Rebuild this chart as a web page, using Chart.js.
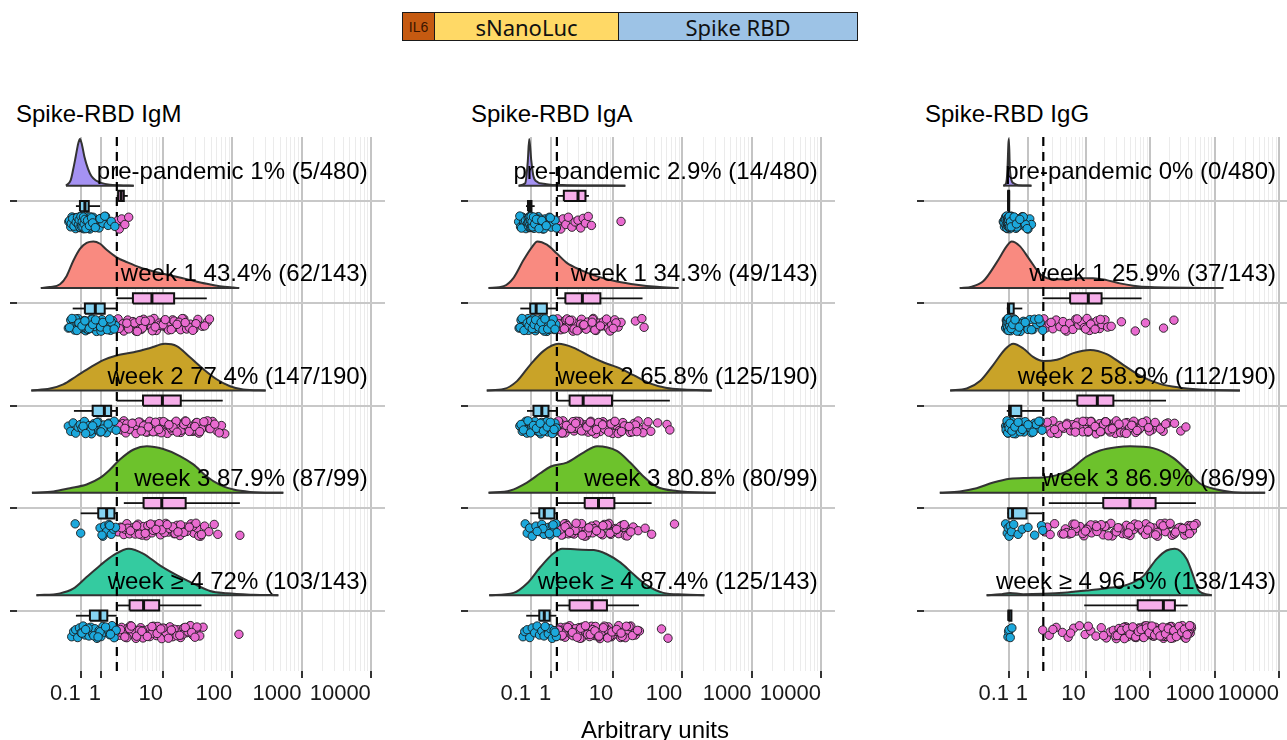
<!DOCTYPE html>
<html><head><meta charset="utf-8">
<script src="https://cdn.jsdelivr.net/npm/chart.js@4.4.1/dist/chart.umd.min.js"></script>
<style>
html,body{margin:0;padding:0;background:#fff;}
body{width:1287px;height:740px;overflow:hidden;position:relative;font-family:"Liberation Sans",Arial,sans-serif;}
#hdr{position:absolute;left:402px;top:12px;width:456px;height:29px;box-sizing:border-box;border:1.5px solid #1a1a1a;display:flex;color:#111;}
#hdr div{height:100%;display:flex;align-items:center;justify-content:center;box-sizing:border-box;font-family:"Noto Sans",sans-serif;}
#hdr div.il6{font-family:"Liberation Sans",Arial,sans-serif;font-size:14px;color:#3a1500;}
.ttl{position:absolute;top:102px;font-size:24px;line-height:24px;color:#000;white-space:nowrap;}
canvas{position:absolute;top:120px;}
#xlab{position:absolute;top:718px;left:455px;width:400px;text-align:center;font-size:24px;line-height:24px;color:#000;}
</style></head>
<body>
<div id="hdr">
  <div class="il6" style="width:31px;background:#c55a11;">IL6</div>
  <div style="width:184px;background:#ffd966;border-left:1.5px solid #1a1a1a;font-size:22px;">sNanoLuc</div>
  <div style="flex:1;background:#9dc3e6;border-left:1.5px solid #1a1a1a;font-size:22px;">Spike RBD</div>
</div>
<div class="ttl" style="left:16px">Spike-RBD IgM</div>
<div class="ttl" style="left:471px">Spike-RBD IgA</div>
<div class="ttl" style="left:925px">Spike-RBD IgG</div>
<canvas id="c1" width="395" height="620" style="left:0px"></canvas>
<canvas id="c2" width="395" height="620" style="left:450px"></canvas>
<canvas id="c3" width="403" height="620" style="left:900px"></canvas>
<div id="xlab">Arbitrary units</div>
<script>
// ---------------- data ----------------
const CATEGORIES = ['pre-pandemic', 'week 1', 'week 2', 'week 3', 'week \u2265 4'];
const POS = [5, 4, 3, 2, 1];
const TICK_MAJOR = [0.1, 1, 10, 100, 1000, 10000];
const TICK_MINOR = [2,3,4,5,6,7,8,9,20,30,40,50,60,70,80,90,200,300,400,500,600,700,800,900,2000,3000,4000,5000,6000,7000,8000,9000];
const CUTOFF = [2.0, 1.31, 2.05];
const XLIM_IGM = [-4.5, 16000];
const XLIM_IGA = [-4.4, 16000];
const XLIM_IGG = [-11.5, 16500];
const LABEL_X = 9000;

const IGM_LABELS = ['pre-pandemic 1% (5/480)', 'week 1 43.4% (62/143)', 'week 2 77.4% (147/190)', 'week 3 87.9% (87/99)', 'week \u2265 4 72% (103/143)'];
const IGA_LABELS = ['pre-pandemic 2.9% (14/480)', 'week 1 34.3% (49/143)', 'week 2 65.8% (125/190)', 'week 3 80.8% (80/99)', 'week \u2265 4 87.4% (125/143)'];
const IGG_LABELS = ['pre-pandemic 0% (0/480)', 'week 1 25.9% (37/143)', 'week 2 58.9% (112/190)', 'week 3 86.9% (86/99)', 'week \u2265 4 96.5% (138/143)'];

// density curves (x in arbitrary units, y relative density)
const IGM_DENS_X = [
 [-0.5,-0.3,-0.2,-0.1,0,0.07,0.15,0.25,0.4,0.55,0.75,1.0,1.5,2.2,3.7],
 [-1.9,-1.3,-0.77,-0.47,-0.2,0.07,0.34,0.63,0.95,1.31,1.98,2.97,4.6,8.1,14,25,43,66,104,126],
 [-2.72,-1.29,-0.62,-0.06,0.48,1.12,1.98,3.69,6.5,10.7,15.8,24.6,38.2,59.6,93,144,304],
 [-2.66,-1.1,-0.33,0.34,0.95,1.52,2.27,3.69,5.8,10.1,17.6,27.5,42.8,66.6,104,181,546],
 [-2.25,-0.77,-0.2,0.34,0.95,1.76,3.1,5.2,9.0,15.8,27.5,47.9,83.5,201,463]];
const IGM_DENS_Y = [
 [0,0.12,0.35,0.62,0.9,1.0,0.88,0.62,0.36,0.2,0.11,0.06,0.02,0.008,0],
 [0,0.02,0.08,0.26,0.58,0.84,0.97,1.0,0.95,0.82,0.66,0.55,0.44,0.34,0.26,0.17,0.09,0.04,0.01,0],
 [0,0.04,0.13,0.31,0.49,0.65,0.75,0.82,0.91,1.0,0.95,0.71,0.46,0.24,0.09,0.02,0],
 [0,0.03,0.1,0.18,0.32,0.5,0.72,0.93,1.0,0.94,0.79,0.61,0.35,0.17,0.07,0.02,0],
 [0,0.04,0.14,0.39,0.64,0.86,1.0,0.89,0.64,0.43,0.25,0.09,0.04,0.01,0]];
const IGA_DENS_X = [
 [-0.4,-0.13,-0.03,0.03,0.11,0.2,0.36,0.63,0.95,1.98,15],
 [-2.1,-1.1,-0.62,-0.2,0.14,0.36,0.78,1.31,1.98,3.4,5.8,11.3,22,42.8,88],
 [-2.25,-1.1,-0.47,0.07,0.63,1.41,2.53,4.6,7.3,11.3,19.7,34,59.6,104,266],
 [-2.1,-0.77,-0.06,0.48,0.95,1.98,3.69,5.8,11.3,17.6,27.5,42.8,83.5,304],
 [-2.05,-0.62,-0.06,0.48,1.12,1.64,2.97,5.2,8.1,12.8,19.7,31.7,53,104,208]];
const IGA_DENS_Y = [
 [0,0.05,0.5,1.0,0.55,0.2,0.08,0.04,0.02,0.01,0],
 [0,0.04,0.22,0.6,0.88,1.0,0.93,0.74,0.54,0.38,0.25,0.14,0.07,0.025,0],
 [0,0.03,0.2,0.55,0.85,1.0,0.92,0.73,0.6,0.5,0.33,0.15,0.05,0.02,0],
 [0,0.05,0.22,0.42,0.56,0.65,0.87,1.0,0.9,0.65,0.35,0.13,0.04,0],
 [0,0.05,0.25,0.6,0.9,1.0,0.98,0.97,0.88,0.7,0.45,0.2,0.05,0.015,0]];
const IGG_DENS_X = [
 [-0.15,-0.03,0.03,0.07,0.09,0.13,0.2,0.3,0.5,1.2],
 [-3.1,-1.92,-1.12,-0.44,0,0.21,0.58,1.11,1.79,2.67,4.4,8.1,13.1,21.3,34,55,100,1370],
 [-4.45,-2.36,-1.33,-0.6,-0.08,0.28,0.75,1.3,2.05,3.5,6.4,11.7,21.3,38.4,69.8,143,291,595,2480],
 [-6.5,-3.1,-1.56,-0.6,0.14,0.93,2.05,3.5,5.7,10.4,16.8,30.3,48.9,112,229,370,595,1082,1951,6100],
 [-0.94,-0.29,0.14,0.75,2.05,5.1,10.4,21.3,43.4,78.6,127,181,243,370,469,561,671,905]];
const IGG_DENS_Y = [
 [0,0.05,0.35,0.9,1.0,0.4,0.12,0.05,0.01,0],
 [0,0.03,0.15,0.55,0.9,1.0,0.9,0.6,0.3,0.2,0.19,0.21,0.21,0.17,0.1,0.05,0.02,0],
 [0,0.04,0.2,0.55,0.88,1.0,0.9,0.72,0.63,0.66,0.8,0.87,0.78,0.55,0.32,0.14,0.06,0.02,0],
 [0,0.03,0.1,0.22,0.3,0.32,0.33,0.38,0.5,0.78,0.91,0.98,1.0,0.96,0.75,0.49,0.2,0.07,0.015,0],
 [0,0.02,0.05,0.02,0.03,0.06,0.1,0.15,0.22,0.41,0.78,0.96,1.0,0.78,0.41,0.11,0.04,0]];

// boxplots [lower whisker, q1, median, q3, upper whisker]
const IGM_POS_BOX = [[2.0,2.1,2.35,2.6,3.0],[2.0,3.6,6.9,14.5,43],[2.0,5.1,9.8,18.1,73],[2.6,5.2,9.6,21.3,129],[2.0,3.2,5.2,8.8,36]];
const IGM_NEG_BOX = [[-0.09,0.07,0.27,0.43,0.95],[-0.22,0.27,0.72,1.2,1.98],[-0.17,0.6,1.18,1.59,1.98],[0.1,0.86,1.31,1.82,1.95],[-0.09,0.48,0.95,1.35,1.98]];
const IGA_POS_BOX = [[1.31,1.76,3.0,3.9,4.4],[1.31,1.87,3.5,6.5,26.6],[1.31,2.2,3.6,9.6,66],[1.37,3.8,6.1,10.4,36],[1.37,2.2,4.9,8.1,23.6]];
const IGA_NEG_BOX = [[-0.1,-0.02,0.05,0.12,0.25],[-0.33,0.07,0.31,0.78,1.28],[-0.06,0.2,0.55,0.86,1.28],[0.07,0.44,0.66,1.17,1.25],[-0.09,0.44,0.66,0.92,1.28]];
const IGG_POS_BOX = [null,[2.0,5.7,11,17.7,74],[2.0,7.4,15.2,27,177],[2.56,18.8,48.9,122,516],[9.5,64.3,161,243,384]];
const IGG_NEG_BOX = [[0.02,0.06,0.08,0.1,0.14],[0.0,0.05,0.08,0.3,0.7],[0.0,0.1,0.15,0.65,1.95],[0.03,0.06,0.25,0.92,1.95],[0.05,0.07,0.1,0.2,0.22]];

// individual samples (seropositive = pink, seronegative = blue)
const IGM_POS_PTS = [
 [2.05,2.2,2.4,2.7,3.1],
 [2.1,2.3,2.5,2.8,3.0,3.3,3.6,4.0,4.4,4.8,5.2,5.7,6.2,6.8,7.4,8.0,8.8,9.6,10.5,11.5,12.5,13.8,15,16.5,18,20,22,25,28,32,37,44,2.6,3.8,5.0,6.5,9,12,14.5,19,24,30,3.1,4.6,7.0,10,17,40,47,2.2,2.9,4.2,5.5,7.7,10.8,13.2,16,21,27],
 [2.05,2.2,2.4,2.6,2.8,3.0,3.3,3.6,3.9,4.2,4.6,5.0,5.4,5.9,6.4,7.0,7.6,8.3,9.0,9.8,10.7,11.6,12.6,13.7,15,16.5,18,19.5,21,23,25,27.5,30,33,37,41,46,52,60,70,78,2.5,3.2,4.4,5.6,6.8,8.0,9.4,11,13,15.5,18.5,22,26,31,36,2.9,4.0,5.2,7.2,10.2,14,20,28,44,65,2.15,2.7,3.5,4.8,6.1,7.8,8.7,12.2,16,21.5,24,29,34,39,48,56],
 [2.1,2.3,2.6,2.9,3.2,3.5,3.9,4.3,4.7,5.2,5.7,6.3,6.9,7.6,8.4,9.2,10,11,12,13.2,14.5,16,17.5,19,21,23,25.5,28,31,35,40,46,55,62,2.7,3.7,4.9,6.0,7.2,8.8,10.5,12.5,15,18,22,27,33,3.0,4.5,6.6,9.6,13.8,20,30,129,2.4,3.3,4.1,5.5,7.9,11.5,16.5,24,36],
 [2.05,2.2,2.4,2.6,2.8,3.0,3.3,3.6,3.9,4.3,4.7,5.1,5.6,6.1,6.7,7.3,8,8.8,9.6,10.5,11.5,12.6,13.8,15,16.5,18,20,22,24.5,27,30,34,38,2.5,3.2,4.0,5.0,6.4,8.4,11,14.5,19,25,2.9,4.5,7,10,16,23,31,125,2.3,2.7,3.4,4.1,4.9,5.9,6.9,8.2,9.3,12,13.2,17.5,21,26,29]];
const IGM_NEG_PTS = [
 [-0.38,-0.3,-0.25,-0.2,-0.15,-0.1,-0.06,-0.02,0.0,0.03,0.06,0.08,0.1,0.12,0.15,0.18,0.2,0.23,0.26,0.3,0.33,0.36,0.4,0.44,0.48,0.52,0.57,0.62,0.68,0.75,0.82,0.9,1.0,1.1,1.25,1.4,1.6,1.85,-0.12,0.05,0.14,0.22,0.28,0.35,0.5,0.65,-0.05,0.09,0.17,0.42,-0.35,-0.28,-0.22,-0.17,-0.08,-0.03,0.01,0.04,0.07,0.11,0.13,0.16,0.19,0.21,0.24,0.27,0.31,0.38,0.46,0.55,0.6,0.72,0.95,1.2],
 [-0.4,-0.3,-0.22,-0.15,-0.08,0,0.06,0.12,0.18,0.25,0.3,0.36,0.42,0.48,0.55,0.62,0.7,0.78,0.86,0.95,1.05,1.15,1.27,1.4,1.55,1.7,1.9,-0.1,0.1,0.2,0.33,0.5,0.66,0.8,1.0,1.2,0.4,0.58,0.9,1.6,-0.35,-0.25,-0.05,0.03,0.15,0.27,0.45,0.6,0.73,0.98,1.1,1.35,1.5,1.8],
 [-0.4,-0.3,-0.2,-0.1,0,0.08,0.15,0.25,0.35,0.45,0.55,0.65,0.75,0.85,0.95,1.05,1.15,1.3,1.45,1.6,1.8,1.95,0.2,0.5,0.8,1.1,1.4,0.3,0.6,1.0],
 [-0.12,0.1,0.95,1.1,1.2,1.3,1.45,1.6,1.75,1.9,1.05,1.5],
 [-0.26,-0.18,-0.1,-0.02,0.05,0.12,0.2,0.28,0.36,0.44,0.52,0.6,0.7,0.8,0.9,1.0,1.1,1.2,1.35,1.5,1.65,1.8,1.95,0.15,0.4,0.65,0.95,1.25,1.55,0.3,0.85]];
const IGA_POS_PTS = [
 [1.4,1.55,1.7,1.9,2.1,2.4,2.7,3.0,3.3,3.6,3.9,4.3,4.8,13],
 [1.35,1.45,1.6,1.75,1.9,2.1,2.3,2.5,2.8,3.1,3.4,3.8,4.2,4.6,5.1,5.6,6.2,6.9,7.7,8.5,9.5,10.5,11.8,13,1.55,2.0,2.6,3.3,4.0,5.0,6.0,7.2,9.0,11,1.7,2.4,3.6,5.4,21,26,28,1.4,1.8,2.2,2.9,3.7,4.9,6.5,8.0,10],
 [1.35,1.45,1.55,1.7,1.85,2.0,2.2,2.4,2.6,2.9,3.2,3.5,3.9,4.3,4.7,5.2,5.8,6.4,7.1,7.9,8.8,9.8,11,12.3,13.8,15.5,17.5,20,23,26,30,35,44,1.6,1.9,2.3,2.7,3.1,3.7,4.4,5.5,6.8,8.3,10.3,12.8,16.5,21,27,1.5,2.1,2.8,3.3,4.0,4.9,6.1,7.5,9.3,11.8,14.5,19,2.5,3.0,60,66,1.4,1.65,1.95,2.35,2.75,3.4,4.1,4.6,5.7,7.0,8.6,10.6,13.2,17,22,32],
 [1.4,1.55,1.7,1.9,2.1,2.3,2.6,2.9,3.2,3.6,4.0,4.5,5.0,5.6,6.3,7.0,7.8,8.7,9.7,10.8,12,13.5,15,17,19.5,23,1.8,2.4,3.0,3.8,4.8,6.0,7.4,9.2,11.5,14,1.6,2.0,2.7,3.4,4.2,5.3,6.6,8.2,10.2,12.7,16,29,36,77,1.5,1.85,2.2,2.8,3.5,4.4,5.7,7.1,9.0,11.2,14.5,18],
 [1.35,1.45,1.55,1.7,1.85,2.0,2.2,2.4,2.6,2.85,3.1,3.4,3.7,4.0,4.4,4.8,5.3,5.8,6.4,7.0,7.7,8.5,9.4,10.4,11.5,12.8,14.2,16,18,21,24,1.6,1.9,2.3,2.7,3.2,3.8,4.5,5.5,6.7,8.1,9.9,12,15,1.5,1.75,2.1,2.5,2.95,3.5,4.2,5.0,6.1,7.4,9.0,11,13.5,17,20,50,62,1.4,1.65,2.05,2.45,2.9,3.3,3.9,4.6,5.4,6.2,7.2,8.3,9.6,11.2,13,15.5,19,22.5]];
const IGA_NEG_PTS = [
 [-0.4,-0.32,-0.25,-0.2,-0.15,-0.1,-0.06,-0.03,0,0.02,0.04,0.06,0.08,0.1,0.12,0.15,0.18,0.22,0.26,0.3,0.35,0.4,0.46,0.52,0.6,0.7,0.8,0.9,1.0,1.1,1.2,1.28,-0.08,0.01,0.05,0.09,0.13,0.2,0.28,0.38,0.5,0.65,-0.18,0.03,0.07,0.11,0.16,0.24,-0.35,-0.28,-0.12,-0.04,-0.01,0.0,0.015,0.035,0.055,0.075,0.09,0.105,0.125,0.14,0.17,0.2,0.25,0.32,0.43,0.55,0.75,0.95],
 [-0.38,-0.3,-0.22,-0.15,-0.08,-0.02,0.04,0.1,0.16,0.22,0.28,0.34,0.4,0.47,0.54,0.62,0.7,0.78,0.86,0.95,1.05,1.15,1.25,-0.12,0.0,0.07,0.13,0.19,0.25,0.31,0.37,0.44,0.5,0.58,0.66,0.74,0.9,1.1,0.2,0.35,-0.34,-0.26,-0.18,-0.05,0.02,0.09,0.15,0.23,0.29,0.42,0.52,0.6,0.69,0.82,1.0,1.2],
 [-0.35,-0.25,-0.15,-0.06,0.02,0.1,0.18,0.26,0.34,0.42,0.5,0.58,0.66,0.74,0.82,0.9,1.0,1.1,1.2,1.27,-0.1,0.06,0.22,0.38,0.54,0.7,0.86,1.05,0.14,0.46,0.78,0.3,-0.3,-0.2,-0.02,0.08,0.2,0.32,0.48,0.62,0.8,0.95,1.15],
 [-0.13,-0.05,0.05,0.15,0.3,0.45,0.55,0.65,0.75,0.85,0.95,1.05,1.15,1.25,1.3,0.6,0.9,1.1,0.35],
 [-0.22,-0.15,-0.05,0.05,0.15,0.25,0.35,0.45,0.55,0.65,0.75,0.85,0.95,1.05,1.15,1.28,0.7,1.2]];
const IGG_POS_PTS = [
 [],
 [2.1,2.3,2.6,3.0,3.4,3.9,4.4,5.0,5.6,6.3,7.0,7.8,8.6,9.5,10.5,11.5,12.6,13.8,15,16.5,18,20,22,2.8,4.7,7.4,10,12,14,17,25,36,59,85,162,235],
 [2.05,2.3,2.6,3.0,3.4,3.9,4.5,5.1,5.8,6.6,7.5,8.5,9.6,10.8,12.2,13.8,15.5,17.5,20,22.5,25.5,29,33,38,44,51,60,72,88,108,130,160,190,2.8,4.2,6.2,8.0,10.2,11.5,13,14.6,16.5,18.6,21,24,27.5,31,35,41,48,56,66,80,98,120,145,175,3.6,7,9,12,15,19,23,30,40,54,70,240,300,360,2.4,3.2,5.0,6.9,9.1,11,14,17,20.5,26,33,43,52,63,77,95],
 [2.2,2.4,2.7,3.2,4.2,4.8,5.5,6.3,7.2,8.2,9.4,10.8,12.4,14.2,16.3,18.7,21.5,24.7,28.4,32.6,37.5,43,49,56,65,75,86,99,114,131,150,173,199,228,262,300,345,396,455,520,5,7,9,12,15,20,26,34,44,58,76,100,130,170,220,280,360,430,6,10.5,17.5,30,50,85,145,240,380,4.5,6.8,9.9,14.8,22.5,32,46,66,92,122,160,205,250,320,410,480],
 [2.0,2.6,3.4,4.3,5.3,6.5,8.0,9.8,12,14.5,17.5,21,24,3.0,5.8,11,19,27,30,33,37,41,45,50,55,61,67,74,82,90,100,110,121,133,147,162,178,196,216,238,262,288,317,349,384,420,440,29,35,43,52,63,77,94,115,140,170,205,250,300,360,410,32,39,47,58,71,87,106,128,155,188,228,275,330,390,435,31,36,40,44,49,54,60,66,73,80,88,97,107,118,130,143,158,174,192,211,233,256,282,310,341,375,412]];
const IGG_NEG_PTS = [
 [-0.15,-0.1,-0.05,-0.02,0,0.02,0.04,0.06,0.08,0.1,0.12,0.15,0.18,0.22,0.26,0.3,0.35,0.4,0.46,0.52,0.6,0.7,0.8,0.9,1.0,1.1,1.2,0.01,0.03,0.05,0.07,0.09,0.11,0.14,0.2,0.28,0.38,0.5,0.65,0.85,-0.08,0.13,0.24,0.44,0.75,-0.12,-0.06,-0.03,-0.01,0.005,0.015,0.025,0.035,0.045,0.055,0.065,0.075,0.085,0.095,0.105,0.12,0.16,0.19,0.32,0.42,0.58,0.95],
 [-0.05,-0.02,0,0.02,0.04,0.06,0.08,0.1,0.12,0.14,0.17,0.2,0.24,0.28,0.33,0.4,0.5,0.6,0.75,0.9,1.1,1.3,1.55,1.8,2.0,0.01,0.03,0.05,0.07,0.09,0.11,0.15,0.22,0.3,0.45,0.7,1.0,1.4,0.0,0.02,0.04,0.06,0.08,0.1,0.13,0.16,0.19,0.26,0.36,0.55,0.85,1.2,1.7],
 [-0.05,0,0.03,0.06,0.09,0.12,0.15,0.2,0.25,0.3,0.38,0.46,0.55,0.65,0.78,0.92,1.05,1.2,1.4,1.6,1.8,1.95,0.02,0.05,0.08,0.11,0.18,0.28,0.42,0.6,0.85,1.1,1.5,-0.03,0.01,0.04,0.07,0.1,0.14,0.22,0.35,0.5,0.7,1.0,1.3,1.7],
 [-0.05,0.02,0.06,0.1,0.15,0.2,0.3,0.5,0.7,1.0,1.4,1.9,2.0],
 [0.05,0.08,0.1,0.15,0.22]];

// vertical jitter fractions for the sample points
const JITTER = [0.12,-0.65,0.83,-0.21,0.47,-0.92,0.3,-0.48,0.71,-0.05,-0.77,0.58,0.95,-0.36,0.18,-0.6,0.66,-0.88,0.02,0.4,-0.15,0.88,-0.52,0.26,-0.98,0.54,-0.3,0.79,-0.7,0.08,0.35,-0.82,0.62,-0.1,0.91,-0.44,0.16,-0.58,0.73,-0.26,0.5,-0.94,0.22,-0.68,0.85,-0.02,0.43,-0.4,0.97,-0.84,0.28,-0.16,0.6,-0.55,0.05,0.76,-0.33,0.38,-0.73,0.9,-0.62];

// ---------------- styles ----------------
const DENS_FILL = ['#a592f3', '#f98a80', '#c9a328', '#6dc22c', '#34cba0'];
const POS_PT = '#e96bd0', NEG_PT = '#1ca8dc';
const POS_BOXFILL = '#f6aeea', NEG_BOXFILL = '#86d3f2';
const FONT = '"Liberation Sans", Arial, sans-serif';

// pseudo-log (asinh) axis, like ggplot's pseudo_log_trans
const SIGMA = 0.6;
const tf = v => Math.asinh(v / (2 * SIGMA));
const itf = t => 2 * SIGMA * Math.sinh(t);
const ALL_TICKS = TICK_MAJOR.concat(TICK_MINOR).sort((a, b) => a - b);
const isMajor = v => TICK_MAJOR.includes(v);

class PseudoLogScale extends Chart.Scale {
  static id = 'pseudolog';
  static defaults = {};
  parse(raw) { return (raw === null || raw === undefined) ? NaN : +raw; }
  determineDataLimits() { this.min = this.options.min; this.max = this.options.max; }
  buildTicks() { return ALL_TICKS.map(v => ({ value: v })); }
  configure() { super.configure(); this._tStart = tf(this.min); this._tRange = tf(this.max) - this._tStart; }
  getLabelForValue(v) { return String(v); }
  getPixelForValue(v) { return this.getPixelForDecimal((tf(v) - this._tStart) / this._tRange); }
  getValueForPixel(p) { return itf(this._tStart + this.getDecimalForPixel(p) * this._tRange); }
  getPixelForTick(i) { const t = this.ticks[i]; return t ? this.getPixelForValue(t.value) : null; }
}
Chart.register(PseudoLogScale);

const annPlugin = {
  id: 'ann',
  afterDatasetsDraw(chart, args, opts) {
    const { ctx } = chart, x = chart.scales.x, y = chart.scales.y;
    ctx.save();
    ctx.font = '24px ' + FONT;
    ctx.fillStyle = '#000';
    ctx.textAlign = 'right';
    ctx.textBaseline = 'middle';
    opts.labels.forEach((t, g) => ctx.fillText(t, x.getPixelForValue(LABEL_X), y.getPixelForValue(POS[g] + 0.28)));
    ctx.restore();
  }
};

function lineDs(data, extra) {
  return Object.assign({ data, borderColor: '#111', borderWidth: 1.8, pointRadius: 0, fill: false, tension: 0 }, extra);
}
function addBox(ds, b, y0, y1, fillCol) {
  const ym = (y0 + y1) / 2;
  ds.push(lineDs([{x: b[0], y: ym}, {x: b[1], y: ym}], { order: 31 }));
  ds.push(lineDs([{x: b[3], y: ym}, {x: b[4], y: ym}], { order: 31 }));
  ds.push(lineDs([{x: b[1], y: y0}, {x: b[3], y: y0}, {x: b[3], y: y1}, {x: b[1], y: y1}, {x: b[1], y: y0}],
    { fill: 'shape', backgroundColor: fillCol, borderWidth: 2, order: 30 }));
  ds.push(lineDs([{x: b[2], y: y0}, {x: b[2], y: y1}], { borderWidth: 3, order: 29 }));
}
function addPoints(ds, vals, pos, col, off) {
  ds.push({
    data: vals.map((x, i) => ({ x, y: pos - 0.21 + JITTER[(i + off) % JITTER.length] * 0.065 })),
    showLine: false, fill: false, pointRadius: 4.2, pointBackgroundColor: col,
    pointBorderColor: '#1a1a1a', pointBorderWidth: 0.9, order: 10
  });
}

function makeChart(id, p) {
  const ds = [];
  for (let g = 0; g < 5; g++) {
    const pos = POS[g], base = pos + 0.15, H = 0.455;
    const dx = p.dx[g], dy = p.dy[g];
    ds.push({
      data: dx.map((x, i) => ({ x, y: base + dy[i] * H })),
      borderColor: '#333', borderWidth: 2, backgroundColor: DENS_FILL[g],
      fill: { value: base }, pointRadius: 0, tension: 0.4, cubicInterpolationMode: 'monotone', order: 50
    });
    ds.push(lineDs([{x: dx[0], y: base}, {x: dx[dx.length - 1], y: base}], { borderColor: '#333', borderWidth: 2, order: 49 }));
    if (p.posBox[g]) {
      addBox(ds, p.posBox[g], pos, pos + 0.1, POS_BOXFILL);
      addBox(ds, p.negBox[g], pos - 0.1, pos, NEG_BOXFILL);
    } else {
      addBox(ds, p.negBox[g], pos - 0.1, pos + 0.1, NEG_BOXFILL);
    }
    addPoints(ds, p.negPts[g], pos, NEG_PT, g * 7);
    addPoints(ds, p.posPts[g], pos, POS_PT, g * 11 + 23);
  }
  ds.push(lineDs([{x: p.cut, y: 0.41}, {x: p.cut, y: 5.625}], { borderColor: '#000', borderWidth: 2.2, borderDash: [9, 6], order: 40 }));

  new Chart(document.getElementById(id), {
    type: 'line',
    data: { datasets: ds },
    plugins: [annPlugin],
    options: {
      responsive: false, animation: false, events: [],
      layout: { padding: { top: 17, right: 10, bottom: 0, left: 0 } },
      plugins: { legend: { display: false }, tooltip: { enabled: false }, ann: { labels: p.labels } },
      scales: {
        x: {
          type: 'pseudolog', min: p.xlim[0], max: p.xlim[1],
          afterFit: s => { s.height = 69; },
          border: { display: false },
          grid: {
            color: c => (c.tick && isMajor(c.tick.value)) ? '#c4c4c4' : '#ebebeb',
            lineWidth: c => (c.tick && isMajor(c.tick.value)) ? 2 : 1,
            tickColor: c => (c.tick && isMajor(c.tick.value)) ? '#333' : 'rgba(0,0,0,0)',
            tickWidth: 2, tickLength: 7
          },
          ticks: {
            autoSkip: false, maxRotation: 0, minRotation: 0, align: 'end', padding: 3,
            font: { family: FONT, size: 22 }, color: '#1a1a1a',
            callback: v => isMajor(v) ? String(v) : ''
          }
        },
        y: {
          type: 'linear', min: 0.41, max: 5.625,
          afterBuildTicks: s => { s.ticks = POS.map(v => ({ value: v })); },
          afterFit: s => { s.width = p.yw; },
          border: { display: false },
          grid: { color: '#c8c8c8', lineWidth: 2, tickColor: '#333', tickWidth: 2, tickLength: 7 },
          ticks: { display: false }
        }
      }
    }
  });
}

makeChart('c1', { dx: IGM_DENS_X, dy: IGM_DENS_Y, posBox: IGM_POS_BOX, negBox: IGM_NEG_BOX, posPts: IGM_POS_PTS, negPts: IGM_NEG_PTS, labels: IGM_LABELS, cut: CUTOFF[0], xlim: XLIM_IGM, yw: 17 });
makeChart('c2', { dx: IGA_DENS_X, dy: IGA_DENS_Y, posBox: IGA_POS_BOX, negBox: IGA_NEG_BOX, posPts: IGA_POS_PTS, negPts: IGA_NEG_PTS, labels: IGA_LABELS, cut: CUTOFF[1], xlim: XLIM_IGA, yw: 18 });
makeChart('c3', { dx: IGG_DENS_X, dy: IGG_DENS_Y, posBox: IGG_POS_BOX, negBox: IGG_NEG_BOX, posPts: IGG_POS_PTS, negPts: IGG_NEG_PTS, labels: IGG_LABELS, cut: CUTOFF[2], xlim: XLIM_IGG, yw: 24 });
</script>
</body></html>
